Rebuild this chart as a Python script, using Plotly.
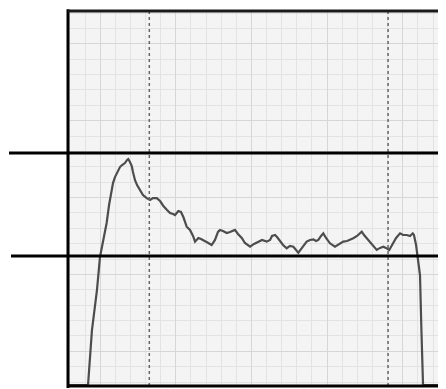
import plotly.graph_objects as go

# Trace data (x in grid units, y in grid units)
trace_x = [-1.12, 0.20, 0.46, 0.79, 0.99, 1.19, 1.43, 1.59, 1.76, 1.85, 1.98, 2.11, 2.31, 2.45, 2.64, 2.78, 2.86,
           2.97, 3.09, 3.17, 3.30, 3.44, 3.64, 3.83, 4.08, 4.30, 4.49, 4.74, 4.96, 5.18, 5.42, 5.62, 5.82,
           5.95, 6.17, 6.34, 6.50, 6.72, 6.94, 7.14, 7.27, 7.49, 7.67, 7.93, 8.15, 8.37, 8.59, 8.79, 8.92,
           9.12, 9.37, 9.58, 9.78, 9.91, 10.11, 10.36, 10.57, 10.91, 11.17, 11.45, 11.70, 12.01, 12.23,
           12.36, 12.56, 12.69, 12.89, 13.09, 13.33, 13.55, 13.77, 13.95, 14.10, 14.34, 14.65, 14.87,
           15.09, 15.27, 15.42, 15.60, 15.75, 15.93, 16.19, 16.52, 16.79, 17.07, 17.32, 17.51, 17.73,
           17.98, 18.29, 18.44, 18.72, 18.97, 19.28, 19.50, 19.72, 19.89, 20.11, 20.22, 20.38, 20.56,
           20.82, 21.02, 21.26, 21.48, 21.66, 21.74, 21.88, 22.01, 22.14, 22.23, 22.34, 23.66]
trace_y = [-0.20, -0.20, 3.38, 5.98, 8.13, 9.24, 10.34, 11.51, 12.49, 12.94, 13.33, 13.59, 13.98, 14.11, 14.24,
           14.44, 14.50, 14.31, 14.05, 13.66, 13.14, 12.81, 12.49, 12.16, 11.96, 11.84, 11.96, 11.96, 11.77,
           11.45, 11.19, 10.99, 10.93, 10.86, 11.12, 11.06, 10.73, 10.10, 9.89, 9.50, 9.13, 9.37, 9.30,
           9.13, 9.04, 8.91, 9.24, 9.76, 9.89, 9.82, 9.69, 9.76, 9.82, 9.89, 9.63, 9.37, 9.04, 8.80, 8.98,
           9.13, 9.24, 9.13, 9.24, 9.50, 9.56, 9.43, 9.13, 8.91, 8.70, 8.85, 8.80, 8.59, 8.41, 8.72, 9.13,
           9.24, 9.28, 9.17, 9.24, 9.50, 9.67, 9.37, 9.02, 8.80, 8.98, 9.13, 9.17, 9.24, 9.35, 9.50, 9.78,
           9.56, 9.24, 8.91, 8.59, 8.72, 8.80, 8.72, 8.59, 8.78, 9.02, 9.37, 9.67, 9.56, 9.56, 9.50, 9.67,
           9.56, 8.91, 8.07, 6.96, 3.51, -0.20, -0.20]

# Reference lines
marker_x = [4.25, 20.03]          # dashed vertical markers
threshold_y = [14.89, 8.20]       # horizontal limit lines
threshold_start = [9, 11]         # left pixel start of limit lines (window coords)

X_RANGE = [-1.124, 23.66]
Y_RANGE = [-0.26, 24.13]

fig = go.Figure()
fig.add_trace(go.Scatter(x=trace_x, y=trace_y, mode="lines",
                         line=dict(color="#4d4d4d", width=2.2), hoverinfo="skip"))

shapes = []
for mx in marker_x:
    shapes.append(dict(type="line", xref="x", yref="paper", x0=mx, x1=mx, y0=0, y1=1,
                       line=dict(color="#666666", width=1.5, dash="dot")))

OFF = 8  # page body margin
L, R, T, B = 68 - OFF, 3, 11 - OFF, 3
W, H = 446 - OFF, 389 - OFF
pw = W - L - R
ph = H - T - B
for ty, tx in zip(threshold_y, threshold_start):
    py = (ty - Y_RANGE[0]) / (Y_RANGE[1] - Y_RANGE[0])
    shapes.append(dict(type="line", xref="paper", yref="paper", x0=(tx - OFF - L) / pw, x1=1.05,
                       y0=py, y1=py, line=dict(color="black", width=3)))

# plot borders
shapes += [
    dict(type="line", xref="paper", yref="paper", x0=0, x1=0, y0=-0.005, y1=1.005, line=dict(color="black", width=3)),
    dict(type="line", xref="paper", yref="paper", x0=0, x1=1, y0=1, y1=1, line=dict(color="#1a1a1a", width=3)),
    dict(type="line", xref="paper", yref="paper", x0=1, x1=1, y0=0, y1=1, line=dict(color="#333333", width=2)),
    dict(type="line", xref="paper", yref="paper", x0=0, x1=1, y0=0, y1=0, line=dict(color="black", width=3)),
]

fig.update_layout(
    width=W, height=H,
    margin=dict(l=L, r=R, t=T, b=B),
    paper_bgcolor="white", plot_bgcolor="#f4f4f4",
    showlegend=False, shapes=shapes,
    xaxis=dict(range=X_RANGE, tick0=1, dtick=5, showticklabels=False, ticks="",
               showgrid=True, gridcolor="#d6d6d6", gridwidth=1, zeroline=False, showline=False,
               minor=dict(tick0=0, dtick=1, showgrid=True, gridcolor="#e3e3e3", gridwidth=1)),
    yaxis=dict(range=Y_RANGE, tick0=2, dtick=5, showticklabels=False, ticks="",
               showgrid=True, gridcolor="#d6d6d6", gridwidth=1, zeroline=False, showline=False,
               minor=dict(tick0=0, dtick=1, showgrid=True, gridcolor="#e3e3e3", gridwidth=1)),
)

fig.write_html("out.html")
